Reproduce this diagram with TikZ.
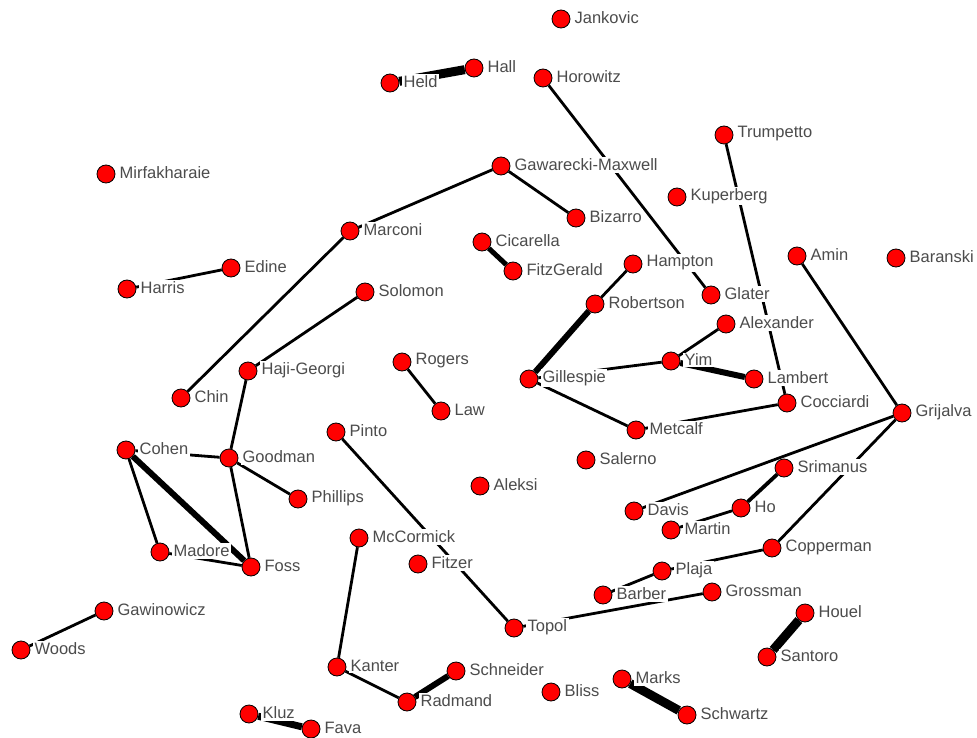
\documentclass[tikz,border=0pt]{standalone}
\usepackage{fontspec}
\setmainfont{Liberation Sans}
\usetikzlibrary{backgrounds}

\begin{document}
\begin{tikzpicture}[x=1pt, y=-1pt]
			\tikzstyle{actor} = [draw=black, line width=0.8pt, fill=red, circle, minimum size=18pt, inner sep=0pt]
			\tikzstyle{lbl} = [fill=white, inner sep=1.5pt, text=black!70, font=\fontsize{16.5}{18}\selectfont, label distance=2.5pt, yshift=1pt]
			\tikzstyle{tie} = [line width=2.8pt]
			\tikzstyle{firm} = [line width=3.8pt]
			\tikzstyle{strong} = [line width=6pt]
			\tikzstyle{heavy} = [line width=9pt]
			\useasboundingbox (0,0) rectangle (977,738);

			\foreach \n/\x/\y in {Jankovic/561/19, Hall/474/68, Held/390/83, Horowitz/543/78,
				Trumpetto/724/135, Mirfakharaie/106/174, Gawarecki-Maxwell/501/166,
				Kuperberg/677/197, Bizarro/576/218, Marconi/350/231, Cicarella/482/242,
				FitzGerald/513/271, Amin/797/256, Baranski/896/258, Edine/231/268,
				Harris/127/289, Hampton/633/264, Glater/711/295, Solomon/365/292,
				Robertson/595/304, Alexander/726/324, Rogers/402/362, Yim/671/361,
				Haji-Georgi/248/371, Gillespie/529/379, Lambert/754/379, Chin/181/398,
				Law/441/411, Cocciardi/787/403, Grijalva/902/413, Pinto/336/432,
				Metcalf/636/430, Cohen/126/450, Goodman/229/458, Salerno/586/460,
				Srimanus/784/468, Aleksi/480/486, Phillips/298/499, Ho/741/508,
				Davis/634/511, Martin/671/530, McCormick/359/538, Madore/160/552,
				Copperman/772/548, Foss/251/567, Fitzer/418/564, Plaja/662/571,
				Barber/603/595, Grossman/712/592, Gawinowicz/104/611, Houel/805/613,
				Topol/514/628, Woods/21/650, Santoro/767/657, Kanter/337/667,
				Schneider/456/671, Marks/622/679, Bliss/551/692, Radmand/407/702,
				Schwartz/687/715, Kluz/249/714, Fava/311/729}
				\node[actor, label={[lbl]0:\n}] (\n) at (\x,\y) {};

			\begin{scope}[on background layer]
			\path[tie]
			(Held) edge[heavy] (Hall)
			(Horowitz) edge (Glater)
			(Trumpetto) edge (Cocciardi)
			(Gawarecki-Maxwell) edge (Bizarro)
			(Gawarecki-Maxwell) edge (Marconi)
			(Marconi) edge (Chin)
			(Cicarella) edge[strong, line width=5pt] (FitzGerald)
			(Edine) edge (Harris)
			(Hampton) edge (Robertson)
			(Robertson) edge[strong] (Gillespie)
			(Solomon) edge (Haji-Georgi)
			(Haji-Georgi) edge (Goodman)
			(Alexander) edge (Yim)
			(Yim) edge (Gillespie)
			(Yim) edge[strong] (Lambert)
			(Rogers) edge (Law)
			(Gillespie) edge (Metcalf)
			(Metcalf) edge (Cocciardi)
			(Amin) edge (Grijalva)
			(Grijalva) edge (Davis)
			(Grijalva) edge (Copperman)
			(Srimanus) edge[firm] (Ho)
			(Ho) edge (Martin)
			(Pinto) edge (Topol)
			(Cohen) edge (Goodman)
			(Cohen) edge (Madore)
			(Cohen) edge[strong] (Foss)
			(Goodman) edge (Phillips)
			(Goodman) edge (Foss)
			(Madore) edge (Foss)
			(McCormick) edge (Kanter)
			(Kanter) edge (Radmand)
			(Radmand) edge[strong] (Schneider)
			(Copperman) edge (Plaja)
			(Plaja) edge (Barber)
			(Topol) edge (Grossman)
			(Houel) edge[heavy] (Santoro)
			(Gawinowicz) edge (Woods)
			(Marks) edge[heavy] (Schwartz)
			(Kluz) edge[strong, line width=7pt] (Fava)
			;
			\end{scope}

\end{tikzpicture}
\end{document}
